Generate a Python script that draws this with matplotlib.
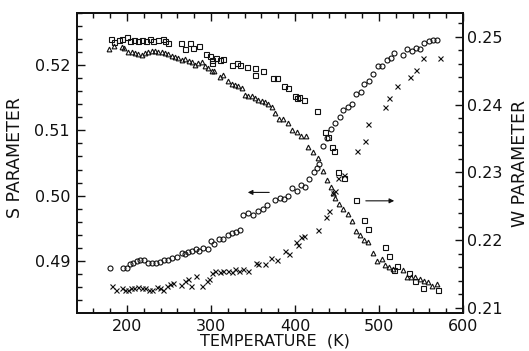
import matplotlib
matplotlib.use("Agg")
import matplotlib.pyplot as plt
from matplotlib.ticker import MultipleLocator

# ---------------- data ----------------
# S parameter, sample 1 (circles)
circ_T = [180, 195.6, 199.6, 203.6, 207.5, 211.5, 215.5, 220.6, 225.4, 230, 234.5, 239.3,
          244.4, 249.2, 254, 259, 265, 269, 273, 277, 282, 286, 291, 297, 300, 304,
          309.5, 314.6, 320, 324.6, 329.4, 334.5, 338, 344, 350, 356, 362, 367,
          376, 382, 387, 392, 397, 402, 407, 412, 417, 423, 426.5, 428,
          433, 438, 443, 448, 453, 457.5, 463, 468, 472.6, 478.5, 482.5, 488, 493,
          498.5, 504, 509, 514, 518, 528, 533.7, 539, 543.7, 549, 554, 559, 564, 569.5]
circ_S = [0.4890, 0.4890, 0.4890, 0.4895, 0.4897, 0.4900, 0.4901, 0.4901, 0.4897, 0.4897,
          0.4897, 0.4898, 0.4901, 0.4902, 0.4905, 0.4906, 0.4912, 0.4910, 0.4914, 0.4915,
          0.4919, 0.4916, 0.4920, 0.4919, 0.4931, 0.4926, 0.4933, 0.4934, 0.4940, 0.4943,
          0.4945, 0.4948, 0.4971, 0.4974, 0.4971, 0.4976, 0.4980, 0.4986,
          0.4993, 0.4997, 0.4995, 0.4999, 0.5011, 0.5007, 0.5017, 0.5013, 0.5026, 0.5036,
          0.5043, 0.5048, 0.5076, 0.5089, 0.5102, 0.5111, 0.5121, 0.5131, 0.5135, 0.5141,
          0.5156, 0.5158, 0.5171, 0.5175, 0.5187, 0.5199, 0.5199, 0.5207, 0.5211, 0.5218,
          0.5215, 0.5224, 0.5221, 0.5226, 0.5225, 0.5233, 0.5237, 0.5238, 0.5239]

# S parameter, sample 2 (crosses)
cross_T = [182, 186.5, 193.7, 197.6, 201.5, 204.8, 208.7, 212.7, 217.5, 221.4, 226.2, 230,
           235.3, 239.3, 243, 247.3, 251, 255, 264, 269, 273, 276, 282, 289, 295, 297.6,
           300.8, 304.8, 310.6, 314.6, 320, 324.6, 328.6, 333.7, 338.5, 344.4, 353, 355.6,
           364, 372, 379, 388, 393, 401, 404, 407, 411, 427, 436.5, 440.5, 445.6, 447.6,
           451.5, 458.7, 473.4, 483.3, 487.3, 507, 512, 521, 537, 544, 552.7, 572.6]
cross_S = [0.4861, 0.4856, 0.4858, 0.4856, 0.4856, 0.4858, 0.4858, 0.4860, 0.4858, 0.4859,
           0.4856, 0.4855, 0.4860, 0.4858, 0.4855, 0.4861, 0.4865, 0.4867, 0.4864, 0.4869,
           0.4872, 0.4861, 0.4877, 0.4861, 0.4870, 0.4873, 0.4882, 0.4884, 0.4883, 0.4885,
           0.4884, 0.4883, 0.4888, 0.4885, 0.4887, 0.4885, 0.4897, 0.4895, 0.4896, 0.4905,
           0.4901, 0.4916, 0.4911, 0.4929, 0.4925, 0.4937, 0.4939, 0.4947, 0.4968, 0.4976,
           0.5004, 0.5007, 0.5027, 0.5032, 0.5068, 0.5084, 0.5109, 0.5135, 0.5149, 0.5168,
           0.5181, 0.5192, 0.5211, 0.5211]

# W parameter, sample 2 (triangles)
tri_T = [178.6, 184.9, 193.7, 196.8, 201.5, 205.6, 209.5, 213.5, 217.5, 221.4, 225.4, 229.4,
         233.3, 237.3, 241.3, 245.2, 249.2, 253.2, 257.1, 261, 265, 269, 273.8, 277.7, 281,
         285, 289, 293, 296.8, 300.8, 304, 310.7, 314.6, 320, 324.6, 328.6, 332.5, 336.5,
         340.5, 344.4, 348.4, 352.3, 356.3, 360.3, 364.2, 368.2, 372.2, 376, 380.9, 386,
         392, 397, 402, 407, 412.7, 416, 422, 427, 433, 438, 443, 445.6, 447.6, 452.4,
         457.5, 463.5, 468.3, 472.6, 477.4, 482.6, 487.4, 492.6, 497.4, 503.3, 507.3, 512.4,
         517.2, 528.5, 533.3, 538.4, 543.2, 548.3, 553, 558, 563, 569]
tri_W = [0.2482, 0.2487, 0.2485, 0.2483, 0.2478, 0.2477, 0.2476, 0.2475, 0.2473, 0.2476,
         0.2477, 0.2479, 0.2479, 0.2478, 0.2477, 0.2476, 0.2474, 0.2472, 0.2470, 0.2468,
         0.2466, 0.2467, 0.2464, 0.2462, 0.2459, 0.2461, 0.2462, 0.2457, 0.2454, 0.2450,
         0.2450, 0.2440, 0.2444, 0.2434, 0.2430, 0.2429, 0.2428, 0.2425, 0.2414, 0.2413,
         0.2412, 0.2409, 0.2407, 0.2405, 0.2404, 0.2401, 0.2397, 0.2388, 0.2379, 0.2378,
         0.2373, 0.2363, 0.2360, 0.2353, 0.2353, 0.2337, 0.2330, 0.2321, 0.2302, 0.2289,
         0.2279, 0.2270, 0.2262, 0.2253, 0.2246, 0.2239, 0.2228, 0.2214, 0.2208, 0.2200,
         0.2197, 0.2181, 0.2169, 0.2172, 0.2164, 0.2160, 0.2157, 0.2156, 0.2145, 0.2145,
         0.2146, 0.2142, 0.2140, 0.2138, 0.2132, 0.2135]

# W parameter, sample 1 (squares)
sq_T = [181, 185, 190.5, 194.4, 199.6, 203.6, 208.7, 213.5, 218.2, 222.2, 227.4, 231.3,
        237.3, 242.5, 245.2, 249.2, 264.3, 269, 275, 279, 285.7, 293.7, 298.8, 300.8,
        301.6, 305.6, 310.7, 314.7, 325.4, 330.6, 334.5, 342.5, 352.3, 352.3, 362.3,
        374.2, 378, 387.3, 392, 400, 402, 404.8, 411, 425.8, 435.7, 439, 443.8, 446.9,
        451.7, 458.8, 472.6, 482.6, 487.4, 507.4, 512.4, 518, 522, 536, 543, 552, 570.6]
sq_W = [0.2497, 0.2492, 0.2495, 0.2497, 0.2499, 0.2494, 0.2495, 0.2494, 0.2495, 0.2494,
        0.2497, 0.2493, 0.2495, 0.2497, 0.2494, 0.2490, 0.2490, 0.2482, 0.2490, 0.2484,
        0.2487, 0.2474, 0.2472, 0.2466, 0.2461, 0.2468, 0.2466, 0.2467, 0.2459, 0.2461,
        0.2458, 0.2456, 0.2454, 0.2444, 0.2450, 0.2439, 0.2439, 0.2427, 0.2425, 0.2413,
        0.2409, 0.2411, 0.2406, 0.2391, 0.2359, 0.2352, 0.2337, 0.2331, 0.2301, 0.2292,
        0.2259, 0.2229, 0.2217, 0.2190, 0.2177, 0.2156, 0.2162, 0.2151, 0.2140, 0.2130,
        0.2127]

x_ticks = [200, 300, 400, 500, 600]
s_ticks = [0.49, 0.50, 0.51, 0.52]
w_ticks = [0.21, 0.22, 0.23, 0.24, 0.25]

# ---------------- figure ----------------
plt.rcParams['font.family'] = ['DejaVu Sans']
fig = plt.figure(figsize=(5.29, 3.51), dpi=100)
ax = fig.add_axes([77/529, 38/351, 386/529, 300.3/351])
ax2 = ax.twinx()

ink = '#111111'
mk = dict(linestyle='none', markerfacecolor='none', markeredgecolor=ink, markeredgewidth=0.8)
ax.plot(circ_T, circ_S, marker='o', markersize=3.6, **mk)
ax.plot(cross_T, cross_S, marker='x', markersize=3.6, **mk)
ax2.plot(tri_T, tri_W, marker='^', markersize=3.4, **mk)
ax2.plot(sq_T, sq_W, marker='s', markersize=3.6, **mk)

ax.set_xlim(140.5, 600)
ax.set_ylim(0.48204, 0.52801)
ax2.set_ylim(0.20926, 0.25354)

ax.set_xticks(x_ticks)
ax.set_xticklabels([str(v) for v in x_ticks])
ax.xaxis.set_minor_locator(MultipleLocator(20))
ax.set_yticks(s_ticks)
ax.set_yticklabels(['0.49', '0.50', '0.51', '0.52'])
ax.yaxis.set_minor_locator(MultipleLocator(0.002))
ax2.set_yticks(w_ticks)
ax2.set_yticklabels(['0.21', '0.22', '0.23', '0.24', '0.25'])
ax2.yaxis.set_minor_locator(MultipleLocator(0.002))

for a in (ax, ax2):
    for s in a.spines.values():
        s.set_linewidth(1.3)
        s.set_color(ink)
ax.tick_params(axis='x', which='both', direction='in', top=True, bottom=True,
               labelsize=11.5, pad=4, colors=ink)
ax.tick_params(axis='x', which='major', length=6, width=1.0)
ax.tick_params(axis='x', which='minor', length=3.5, width=1.0)
ax.tick_params(axis='y', which='both', direction='in', left=True, right=False,
               labelsize=11.5, pad=5, colors=ink)
ax.tick_params(axis='y', which='major', length=6, width=1.0)
ax.tick_params(axis='y', which='minor', length=3.5, width=1.0)
ax2.tick_params(axis='y', which='both', direction='in', right=True, left=False,
                labelsize=11.5, pad=3, colors=ink)
ax2.tick_params(axis='y', which='major', length=6, width=1.0)
ax2.tick_params(axis='y', which='minor', length=3.5, width=1.0)

# arrows indicating axes
ax.annotate('', xy=(340.5, 0.5005), xytext=(372.6, 0.5005),
            arrowprops=dict(arrowstyle='-|>', color=ink, lw=0.8, mutation_scale=7))
ax2.annotate('', xy=(521.4, 0.2258), xytext=(481, 0.2258),
             arrowprops=dict(arrowstyle='-|>', color=ink, lw=0.8, mutation_scale=7))

fig.text(15/529, (351-157)/351, 'S PARAMETER', rotation=90, ha='center', va='center',
         fontsize=12.5, color=ink)
fig.text(520/529, (351-163.5)/351, 'W PARAMETER', rotation=90, ha='center', va='center',
         fontsize=12.5, color=ink)
fig.text(275/529, 2/351, 'TEMPERATURE  (K)', ha='center', va='bottom',
         fontsize=11.5, color=ink)

fig.savefig('out.png', dpi=100)
